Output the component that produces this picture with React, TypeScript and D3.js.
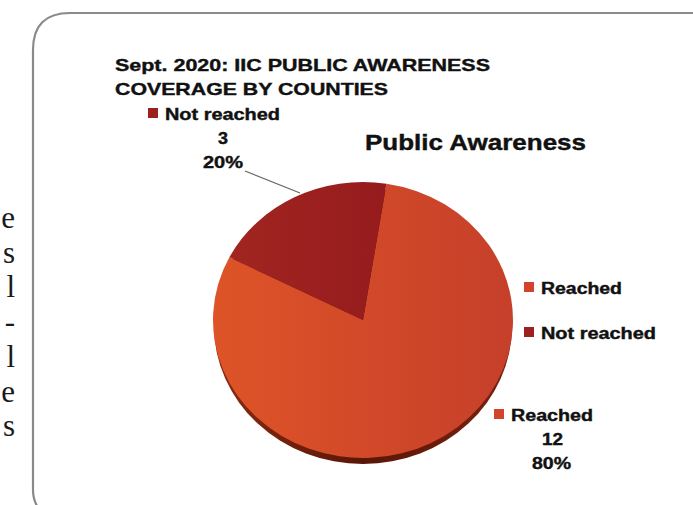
import React from "react";
import * as d3 from "d3";

const categories = ["Reached", "Not reached"];
const counts = [12, 3];
const percents = ["80%", "20%"];
const colors = ["#d2452a", "#9c2020"];
const titleLines = ["Sept. 2020: IIC PUBLIC AWARENESS", "COVERAGE BY  COUNTIES"];
const subTitle = "Public Awareness";
const sideLetters = ["e", "s", "l", "-", "l", "e", "s"];

const W = 693;
const H = 505;
const cx = 363;
const cy = 320;
const rx = 150;
const ry = 138;
const startDeg = 9;

export default function App() {
  const pie = d3
    .pie<number>()
    .sort(null)
    .startAngle((startDeg * Math.PI) / 180)
    .endAngle(((startDeg + 360) * Math.PI) / 180)(counts);
  const arc = d3.arc<d3.PieArcDatum<number>>().innerRadius(0).outerRadius(rx);
  const font = "'Liberation Sans', Arial, sans-serif";
  const bold = {
    fontFamily: font,
    fontWeight: "bold" as const,
    fill: "#111",
    stroke: "#111",
    strokeWidth: 0.4,
  };
  return (
    <svg
      width={W}
      height={H}
      style={{ position: "absolute", left: 0, top: 0, background: "#fff" }}
    >
      <defs>
        <linearGradient id="gReached" x1="0" x2="1" y1="0" y2="0">
          <stop offset="0" stopColor="#de5428" />
          <stop offset="1" stopColor="#c63f2a" />
        </linearGradient>
        <linearGradient id="gNot" x1="0" x2="1" y1="0" y2="0">
          <stop offset="0" stopColor="#a12520" />
          <stop offset="1" stopColor="#961b1d" />
        </linearGradient>
        <linearGradient id="gShadow" x1="0" x2="1" y1="0" y2="0">
          <stop offset="0" stopColor="#8a2a10" />
          <stop offset="0.5" stopColor="#5a1608" />
          <stop offset="1" stopColor="#7a2210" />
        </linearGradient>
      </defs>
      {/* side serif text fragments */}
      {sideLetters.map((l, i) => (
        <text
          key={i}
          x={15}
          y={228 + i * 34.7}
          textAnchor="end"
          fontFamily="'Liberation Serif', 'Times New Roman', serif"
          fontSize={31}
          fill="#1a1a1a"
        >
          {l}
        </text>
      ))}
      {/* frame */}
      <path
        d={`M 42 ${H + 8} Q 33 ${H - 2} 33 490 L 33 50 Q 33 13 70 13 L ${W + 10} 13`}
        fill="none"
        stroke="#8a8a8a"
        strokeWidth={2.2}
      />
      {/* titles */}
      <text x={115} y={71} {...bold} fontSize={17} textLength={375} lengthAdjust="spacingAndGlyphs">
        {titleLines[0]}
      </text>
      <text x={115} y={95} {...bold} fontSize={17} textLength={273} lengthAdjust="spacingAndGlyphs">
        {titleLines[1]}
      </text>
      <text x={365} y={150} {...bold} fontSize={22} textLength={221} lengthAdjust="spacingAndGlyphs">
        {subTitle}
      </text>
      {/* pie depth */}
      <ellipse cx={cx} cy={cy + 6} rx={rx - 1} ry={ry} fill="url(#gShadow)" />
      <g transform={`translate(${cx},${cy}) scale(1,${ry / rx})`}>
        {pie.map((d, i) => (
          <path key={i} d={arc(d) || ""} fill={i === 0 ? "url(#gReached)" : "url(#gNot)"} />
        ))}
      </g>
      {/* leader line */}
      <line x1={245} y1={171} x2={300} y2={193} stroke="#666" strokeWidth={1.3} />
      {/* Not reached data label */}
      <rect x={148} y={108} width={10} height={10} fill={colors[1]} />
      <text x={165} y={120} {...bold} fontSize={16} textLength={115} lengthAdjust="spacingAndGlyphs">
        {categories[1]}
      </text>
      <text x={218} y={144} {...bold} fontSize={16} textLength={10} lengthAdjust="spacingAndGlyphs">
        {counts[1]}
      </text>
      <text x={203} y={168} {...bold} fontSize={16} textLength={40} lengthAdjust="spacingAndGlyphs">
        {percents[1]}
      </text>
      {/* legend */}
      {categories.map((c, i) => (
        <g key={c}>
          <rect x={524} y={282 + i * 45} width={10} height={10} fill={colors[i]} />
          <text x={541} y={294 + i * 45} {...bold} fontSize={16} textLength={i === 0 ? 81 : 115} lengthAdjust="spacingAndGlyphs">
            {c}
          </text>
        </g>
      ))}
      {/* Reached data label */}
      <rect x={494} y={409} width={10} height={10} fill={colors[0]} />
      <text x={511} y={421} {...bold} fontSize={16} textLength={82} lengthAdjust="spacingAndGlyphs">
        {categories[0]}
      </text>
      <text x={542} y={445} {...bold} fontSize={16} textLength={21} lengthAdjust="spacingAndGlyphs">
        {counts[0]}
      </text>
      <text x={532} y={469} {...bold} fontSize={16} textLength={39} lengthAdjust="spacingAndGlyphs">
        {percents[0]}
      </text>
    </svg>
  );
}
